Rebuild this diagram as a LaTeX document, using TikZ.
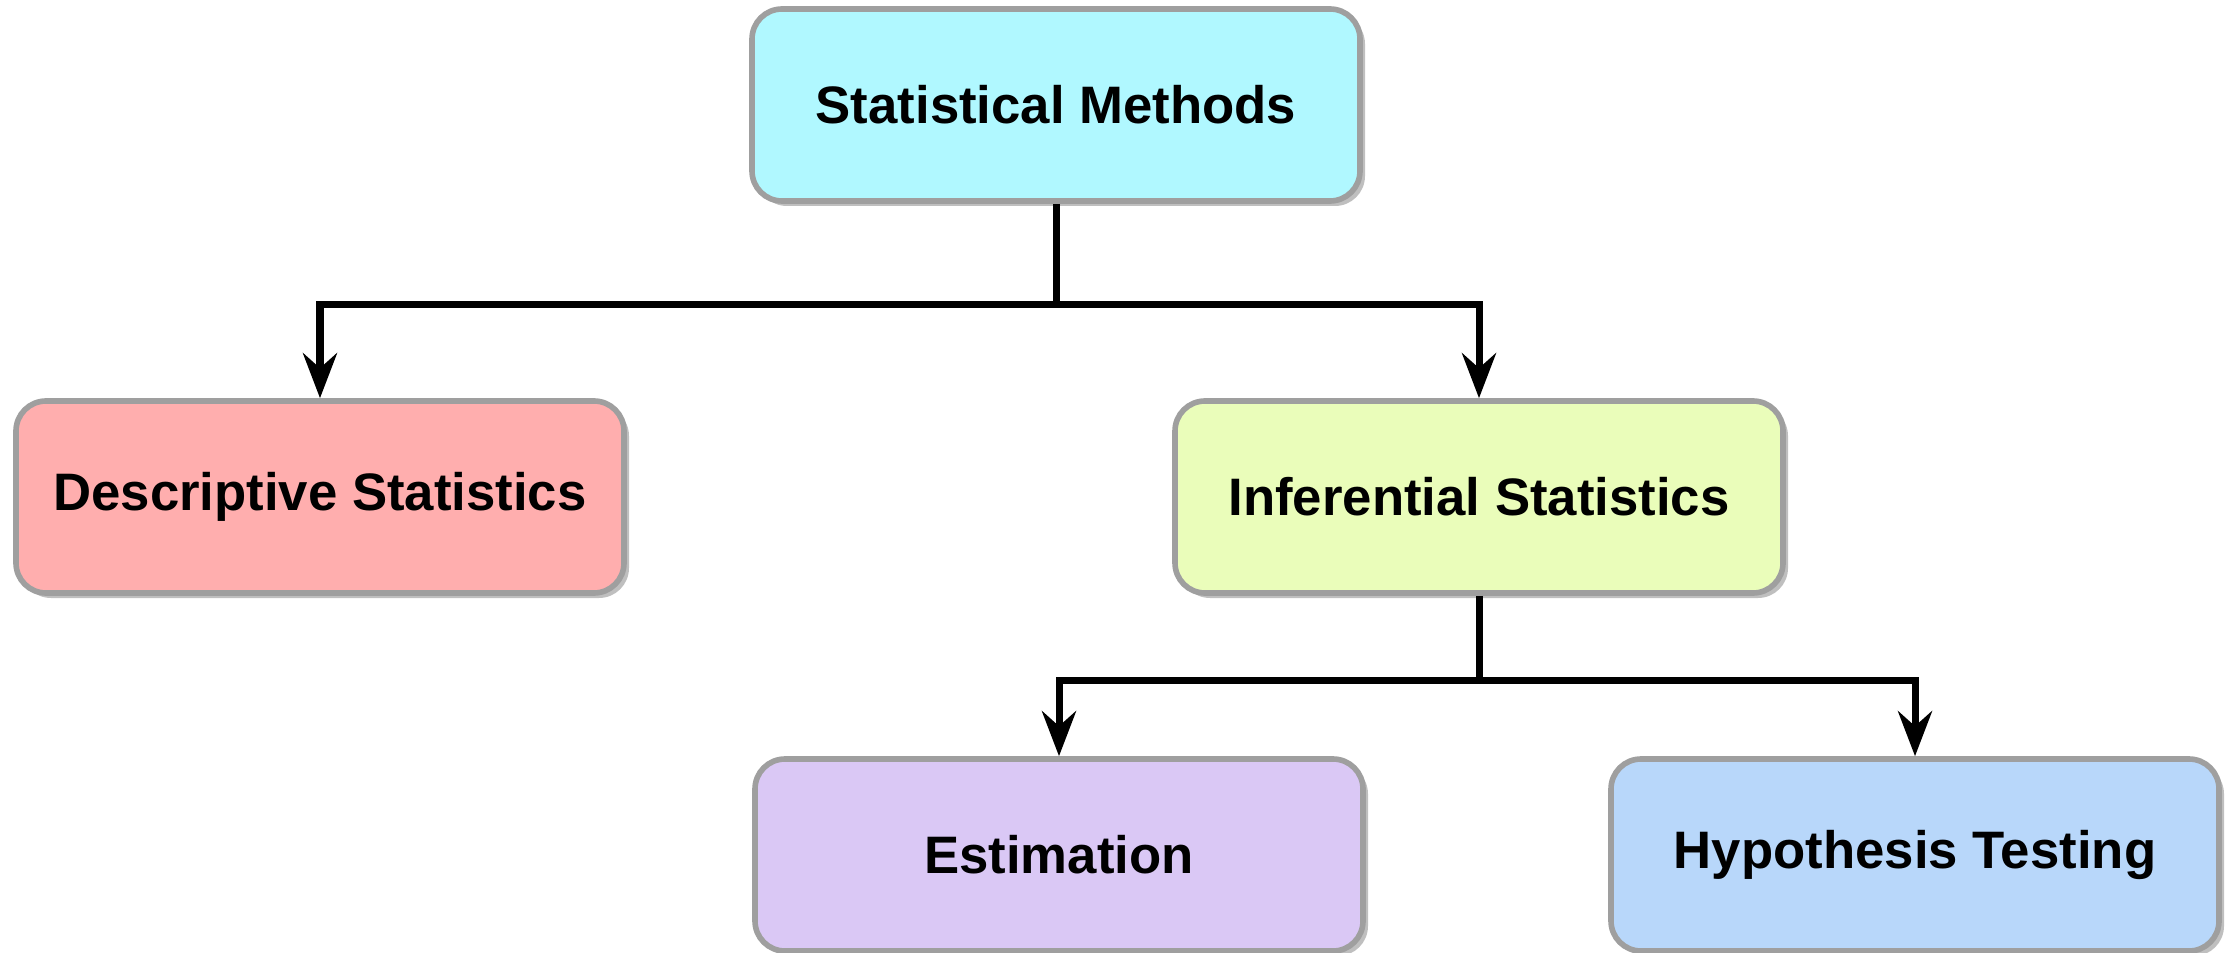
\documentclass[tikz,border=0pt]{standalone}
\usepackage{fontspec}
\setmainfont{Liberation Sans}
\usepackage{tikz}
\usetikzlibrary{arrows.meta, positioning, shadows}
\definecolor{topfill}{RGB}{176,248,255}
\definecolor{descfill}{RGB}{255,174,174}
\definecolor{inffill}{RGB}{234,253,186}
\definecolor{estfill}{RGB}{218,200,245}
\definecolor{hypfill}{RGB}{184,215,250}
\tikzset{
    box/.style={rectangle, rounded corners=0.3cm, minimum width=6.08cm, minimum height=1.92cm, inner sep=0pt, text centered, draw=gray!75, line width=1.6pt, font=\fontsize{15}{18}\selectfont\bfseries, drop shadow={shadow xshift=0.5mm, shadow yshift=-0.5mm, opacity=0.5}},
    line/.style={line width=2pt, black},
    arrow/.style={line width=2pt, black, -{Stealth[length=4.5mm, width=3.4mm, inset=1.5mm]}},
}
\begin{document}
\begin{tikzpicture}
  \useasboundingbox (0,0) rectangle (22.26,9.52);
  \node[box, fill=topfill]  (top)  at (10.56,8.47) {Statistical Methods};
  \node[box, fill=descfill] (desc) at (3.20,4.55)  {Descriptive Statistics};
  \node[box, fill=inffill]  (inf)  at (14.79,4.55) {Inferential Statistics};
  \node[box, fill=estfill]  (est)  at (10.59,0.97) {Estimation};
  \node[box, fill=hypfill]  (hyp)  at (19.15,0.97) {Hypothesis Testing};

  \draw[line]  (top.south) -- ++(0,-1.01) coordinate (j1);
  \draw[arrow] (j1) -| (desc.north);
  \draw[arrow] (j1) -| (inf.north);
  \draw[line]  (inf.south) -- ++(0,-0.85) coordinate (j2);
  \draw[arrow] (j2) -| (est.north);
  \draw[arrow] (j2) -| (hyp.north);
\end{tikzpicture}
\end{document}
